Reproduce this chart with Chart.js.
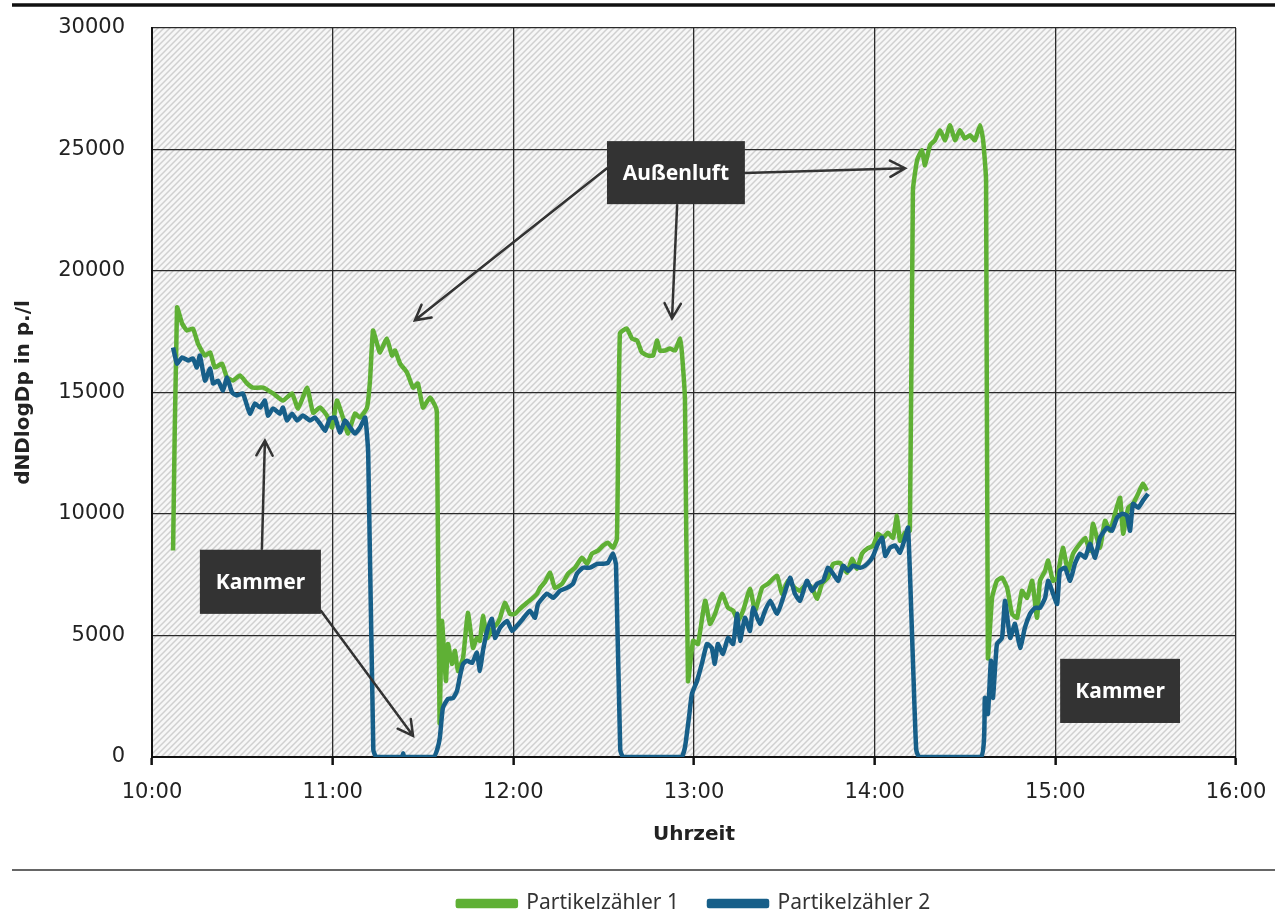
<!DOCTYPE html>
<html>
<head>
<meta charset="utf-8">
<title>Partikelzähler</title>
<script src="https://cdn.jsdelivr.net/npm/chart.js@4.4.0/dist/chart.umd.min.js"></script>
<style>
  html, body { margin: 0; padding: 0; background: #fff; }
</style>
</head>
<body>
<canvas id="chart" width="1283" height="918"></canvas>
<script>
// Zeit in Minuten ab 10:00
const zeit1 = [7.0, 8.3, 10.0, 11.6, 13.6, 15.3, 17.6, 19.3, 20.9, 23.2, 24.9, 26.9, 29.2, 31.6, 33.5, 36.9, 40.2, 43.5, 46.5, 48.5,
  51.5, 53.5, 55.8, 58.1, 59.8, 61.4, 63.4, 65.1, 67.4, 69.1, 71.4, 72.4, 73.4, 74.7, 75.7, 78.0, 79.7, 80.7, 82.4, 84.7,
  86.7, 88.3, 90.0, 92.3, 94.0, 94.6, 95.5, 96.3, 97.6, 98.3, 99.6, 100.6, 101.6, 103.3, 104.9, 106.6, 107.9, 108.9, 109.9, 111.3,
  112.9, 114.6, 115.6, 117.2, 118.9, 120.6, 122.2, 124.5, 126.5, 127.9, 128.9, 130.5, 132.2, 133.8, 136.2, 138.2, 140.5, 142.8, 144.5, 146.1,
  148.1, 149.8, 151.4, 153.1, 154.4, 155.4, 157.7, 159.4, 161.1, 162.7, 164.7, 166.4, 167.7, 168.7, 170.4, 172.0, 173.7, 175.4, 176.0, 177.0,
  178.0, 179.7, 181.3, 183.7, 185.3, 187.0, 189.3, 191.3, 193.0, 194.6, 196.3, 198.6, 200.3, 202.6, 204.6, 207.6, 209.2, 211.2, 213.5, 215.2,
  217.5, 219.2, 220.9, 222.5, 224.5, 226.2, 228.5, 230.8, 232.5, 234.1, 235.8, 237.5, 239.5, 241.1, 242.8, 244.4, 246.1, 247.4, 248.4, 250.1,
  251.7, 252.7, 254.1, 255.7, 256.7, 258.4, 260.0, 261.7, 263.4, 265.0, 266.7, 268.3, 270.0, 271.7, 273.3, 275.0, 276.0, 277.0, 277.6, 279.0,
  280.6, 282.3, 284.0, 285.6, 287.3, 288.9, 290.6, 292.3, 293.9, 294.9, 296.6, 297.6, 299.2, 300.6, 302.5, 304.2, 305.9, 308.2, 309.9, 311.5,
  312.5, 314.8, 316.5, 318.2, 319.8, 321.5, 322.5, 324.2, 325.8, 327.5, 329.1, 330.4]
const werte1 = [8500, 18500, 17840, 17550, 17630, 17000, 16520, 16650, 16030, 16190, 15620, 15490, 15700, 15370, 15200, 15200, 14960, 14670, 14960, 14340,
  15200, 14170, 14380, 14050, 13560, 14670, 13970, 13310, 14130, 13970, 14380, 15490, 17550, 17020, 16650, 17220, 16520, 16730, 16190, 15820,
  15200, 15370, 14380, 14790, 14460, 14200, 1400, 5600, 3130, 4650, 3830, 4370, 3540, 4080, 5930, 4490, 4900, 4780, 5810, 4900,
  5270, 5480, 5730, 6350, 5890, 5890, 6100, 6350, 6550, 6720, 6960, 7200, 7580, 6960, 7130, 7540, 7790, 8200, 7950, 8370,
  8490, 8700, 8820, 8610, 8980, 17430, 17630, 17220, 17140, 16650, 16520, 16520, 17140, 16730, 16730, 16810, 16730, 17220, 16610, 14700,
  3130, 4780, 4650, 6430, 5480, 5890, 6720, 6140, 6020, 5600, 6020, 6920, 6020, 6960, 7130, 7460, 6720, 7250, 6960, 6840,
  7130, 6960, 6510, 7130, 7380, 7950, 7990, 7580, 8160, 7750, 8370, 8570, 8700, 9190, 9020, 9230, 9020, 9930, 8900, 9230,
  9310, 23320, 24560, 24970, 24350, 25180, 25380, 25790, 25380, 26000, 25380, 25790, 25450, 25590, 25380, 26000, 25400, 23730, 4080, 6550,
  7250, 7380, 6960, 5890, 5730, 6840, 6550, 7250, 5730, 7250, 7660, 8080, 7250, 7380, 8610, 7660, 8370, 8780, 9020, 8490,
  9600, 8610, 9720, 9310, 10010, 10670, 9190, 10260, 10420, 10830, 11250, 10960]

const zeit2 = [7.0, 8.3, 10.0, 12.0, 13.6, 14.9, 15.9, 17.6, 19.3, 20.3, 21.9, 23.6, 24.9, 26.6, 28.2, 30.2, 32.5, 34.2, 35.9, 37.5,
  38.5, 40.2, 42.5, 43.5, 44.8, 46.5, 48.2, 50.1, 52.5, 54.1, 55.8, 57.5, 59.1, 60.8, 62.4, 64.1, 65.8, 67.4, 69.1, 70.8,
  71.8, 73.5, 74.5, 83.0, 83.4, 83.8, 93.5, 94.7, 95.6, 96.6, 98.3, 100.0, 101.3, 102.3, 103.3, 104.6, 106.3, 107.9, 108.9, 109.9,
  111.6, 112.9, 113.9, 115.6, 117.9, 119.6, 121.2, 123.2, 125.5, 127.2, 128.2, 131.2, 133.2, 135.5, 137.8, 139.8, 141.1, 143.1, 145.5, 147.8,
  149.8, 151.4, 153.1, 154.1, 155.5, 156.5, 175.8, 177.0, 178.5, 179.3, 181.0, 182.6, 184.3, 185.9, 186.9, 187.9, 189.6, 191.3, 193.0, 194.3,
  195.3, 196.9, 198.6, 199.6, 201.9, 203.6, 205.3, 207.6, 209.6, 211.9, 213.5, 215.2, 217.5, 219.2, 220.9, 222.9, 224.5, 226.2, 227.9, 229.5,
  231.2, 232.8, 235.2, 236.8, 238.5, 239.5, 241.1, 242.5, 243.5, 245.1, 246.8, 248.4, 250.1, 251.1, 252.7, 253.8, 254.8, 275.3, 276.6, 277.6,
  278.6, 279.3, 280.6, 282.3, 283.3, 285.0, 286.6, 288.3, 289.9, 291.6, 293.2, 294.9, 296.6, 297.6, 298.9, 300.6, 301.5, 303.2, 304.9, 306.5,
  308.2, 309.9, 311.5, 313.2, 314.8, 317.2, 318.8, 320.5, 322.2, 323.8, 324.8, 325.8, 327.5, 329.1, 330.8]
const werte2 = [16850, 16190, 16440, 16320, 16400, 16030, 16520, 15490, 15990, 15370, 15490, 15080, 15620, 15000, 14880, 14960, 14130, 14550, 14380, 14670,
  14050, 14340, 14130, 14380, 13850, 14130, 13850, 14050, 13850, 13970, 13720, 13430, 13930, 13970, 13350, 13850, 13560, 13310, 13560, 13970,
  12500, 300, 0, 0, 150, 0, 0, 300, 800, 2020, 2390, 2430, 2720, 3340, 3830, 3960, 3870, 4290, 3540, 4370,
  5320, 5690, 4900, 5320, 5600, 5190, 5400, 5690, 6020, 5730, 6300, 6720, 6550, 6840, 6960, 7130, 7540, 7790, 7790, 7950,
  7950, 7990, 8370, 7900, 300, 0, 0, 400, 1800, 2600, 3130, 3830, 4650, 4490, 3830, 4650, 4240, 4900, 4650, 5890,
  4780, 5730, 5190, 6140, 5480, 6020, 6430, 5890, 6550, 7380, 6720, 6430, 7250, 6840, 7130, 7250, 7790, 7540, 7250, 7870,
  7660, 7870, 7790, 7870, 8080, 8280, 8780, 9020, 8280, 8610, 8700, 8410, 9020, 9440, 4000, 300, 0, 0, 2430, 1770,
  3960, 2430, 4650, 4900, 6430, 4900, 5480, 4490, 5320, 5890, 6140, 6140, 6550, 7250, 6840, 6300, 7660, 7790, 7250, 7950,
  8370, 8200, 8780, 8200, 9020, 9440, 9310, 9850, 10010, 9930, 9310, 10420, 10260, 10550, 10830]

const stundenLabels = ['10:00', '11:00', '12:00', '13:00', '14:00', '15:00', '16:00']
const yTicks = [0, 5000, 10000, 15000, 20000, 25000, 30000]

const gruen = '#5fb035', blau = '#175f89'

// Beschriftungen (in Datenkoordinaten)
const kaesten = [
    { text: 'Außenluft', x0: 151.1, x1: 196.9, y0: 25345, y1: 22750 },
    { text: 'Kammer', x0: 15.9, x1: 56.1, y0: 8530, y1: 5890 },
    { text: 'Kammer', x0: 301.6, x1: 341.4, y0: 4040, y1: 1400 }
]
const pfeile = [
    [151.1, 24230, 87.3, 17970],
    [174.4, 22710, 172.7, 18050],
    [196.9, 24030, 250.1, 24230],
    [36.5, 8570, 37.5, 13020],
    [56.1, 6020, 86.7, 870]
]

const ctx = document.getElementById('chart').getContext('2d')

const makeHatch = () => {
    const c = document.createElement('canvas')
    c.width = 6; c.height = 6
    const g = c.getContext('2d')
    g.fillStyle = '#f7f7f7'
    g.fillRect(0, 0, 6, 6)
    g.strokeStyle = '#d0d0d0'
    g.lineWidth = 1.5
    g.beginPath()
    g.moveTo(-1, 7); g.lineTo(7, -1)
    g.moveTo(-1, 1); g.lineTo(1, -1)
    g.moveTo(5, 7); g.lineTo(7, 5)
    g.stroke()
    return ctx.createPattern(c, 'repeat')
}

const hatchPlugin = {
    id: 'hatch',
    beforeDraw(chart) {
        const a = chart.chartArea, c = chart.ctx
        c.save()
        c.fillStyle = makeHatch()
        c.fillRect(a.left, a.top, a.right - a.left, a.bottom - a.top)
        c.restore()
    }
}

const rahmenPlugin = {
    id: 'rahmen',
    afterDraw(chart) {
        const c = chart.ctx
        c.save()
        c.strokeStyle = '#111'
        c.lineWidth = 3.5
        c.beginPath(); c.moveTo(12, 5); c.lineTo(1275, 5); c.stroke()
        c.strokeStyle = '#333'
        c.lineWidth = 1.5
        c.beginPath(); c.moveTo(12, 870); c.lineTo(1275, 870); c.stroke()
        c.restore()
    }
}

const notizPlugin = {
    id: 'notiz',
    afterDatasetsDraw(chart) {
        const c = chart.ctx, xs = chart.scales.x, ys = chart.scales.y
        c.save()
        c.strokeStyle = '#333'
        c.lineWidth = 2.5
        c.lineCap = 'round'
        pfeile.forEach(p => {
            const x1 = xs.getPixelForValue(p[0]), y1 = ys.getPixelForValue(p[1])
            const x2 = xs.getPixelForValue(p[2]), y2 = ys.getPixelForValue(p[3])
            const ang = Math.atan2(y2 - y1, x2 - x1), len = 17, spread = 0.5
            c.beginPath()
            c.moveTo(x1, y1); c.lineTo(x2, y2)
            c.moveTo(x2 - len * Math.cos(ang - spread), y2 - len * Math.sin(ang - spread))
            c.lineTo(x2, y2)
            c.lineTo(x2 - len * Math.cos(ang + spread), y2 - len * Math.sin(ang + spread))
            c.stroke()
        })
        kaesten.forEach(k => {
            const l = xs.getPixelForValue(k.x0), r = xs.getPixelForValue(k.x1)
            const t = ys.getPixelForValue(k.y0), b = ys.getPixelForValue(k.y1)
            c.fillStyle = '#333333'
            c.fillRect(l, t, r - l, b - t)
            c.fillStyle = '#ffffff'
            c.font = 'bold 21px "Noto Sans"'
            c.textAlign = 'center'
            c.textBaseline = 'middle'
            c.fillText(k.text, (l + r) / 2, (t + b) / 2 + 1)
        })
        c.restore()
    }
}

const toPoints = (xs, ys) => xs.map((x, i) => ({ x: x, y: ys[i] }))

const myChart = new Chart(ctx, {
    type: 'line',
    data: {
        datasets: [{
            label: 'Partikelzähler 1',
            data: toPoints(zeit1, werte1),
            borderColor: gruen,
            backgroundColor: gruen,
            borderWidth: 4.5,
            pointRadius: 0,
            tension: 0.15,
            borderJoinStyle: 'round',
            order: 1
        }, {
            label: 'Partikelzähler 2',
            data: toPoints(zeit2, werte2),
            borderColor: blau,
            backgroundColor: blau,
            borderWidth: 4.5,
            pointRadius: 0,
            tension: 0.15,
            borderJoinStyle: 'round',
            order: 0
        }]
    },
    options: {
        responsive: false,
        animation: false,
        layout: { padding: { top: 28, right: 47, left: 0, bottom: -6 } },
        plugins: {
            legend: {
                position: 'bottom',
                fullSize: false,
                labels: {
                    sort: (a, b) => a.datasetIndex - b.datasetIndex,
                    boxWidth: 58,
                    boxHeight: 5,
                    padding: 30,
                    color: '#333',
                    font: { family: 'Noto Sans', size: 21 }
                }
            },
            tooltip: { enabled: false }
        },
        scales: {
            x: {
                type: 'linear',
                min: 0,
                max: 360,
                afterFit: s => { s.height = 106 },
                afterBuildTicks: s => { s.ticks = stundenLabels.map((t, i) => ({ value: i * 60 })) },
                ticks: {
                    callback: (v) => stundenLabels[Math.round(v / 60)],
                    maxRotation: 0,
                    padding: 15,
                    color: '#222',
                    font: { family: 'DejaVu Sans', size: 21 }
                },
                grid: { color: '#2a2a2a', lineWidth: 1.3, drawTicks: true, tickLength: 8, tickColor: '#111', tickWidth: 2.5 },
                border: { color: '#111', width: 2 },
                title: {
                    display: true,
                    text: 'Uhrzeit',
                    color: '#222',
                    font: { family: 'DejaVu Sans', size: 20, weight: 'bold' },
                    padding: { top: 0, bottom: 16 }
                }
            },
            y: {
                min: 0,
                max: 30000,
                afterFit: s => { s.width = 152 },
                afterBuildTicks: s => { s.ticks = yTicks.map(v => ({ value: v })) },
                ticks: {
                    callback: v => String(v),
                    padding: 0,
                    color: '#222',
                    font: { family: 'DejaVu Sans', size: 21 }
                },
                grid: { color: '#2a2a2a', lineWidth: 1.3, drawTicks: true, tickLength: 27, tickColor: 'rgba(0,0,0,0)' },
                border: { color: '#111', width: 2 },
                title: {
                    display: true,
                    text: 'dNDlogDp in p./l',
                    color: '#222',
                    font: { family: 'DejaVu Sans', size: 20, weight: 'bold' },
                    padding: { top: 12, bottom: 0 }
                }
            }
        }
    },
    plugins: [hatchPlugin, notizPlugin, rahmenPlugin]
})
</script>
</body>
</html>
